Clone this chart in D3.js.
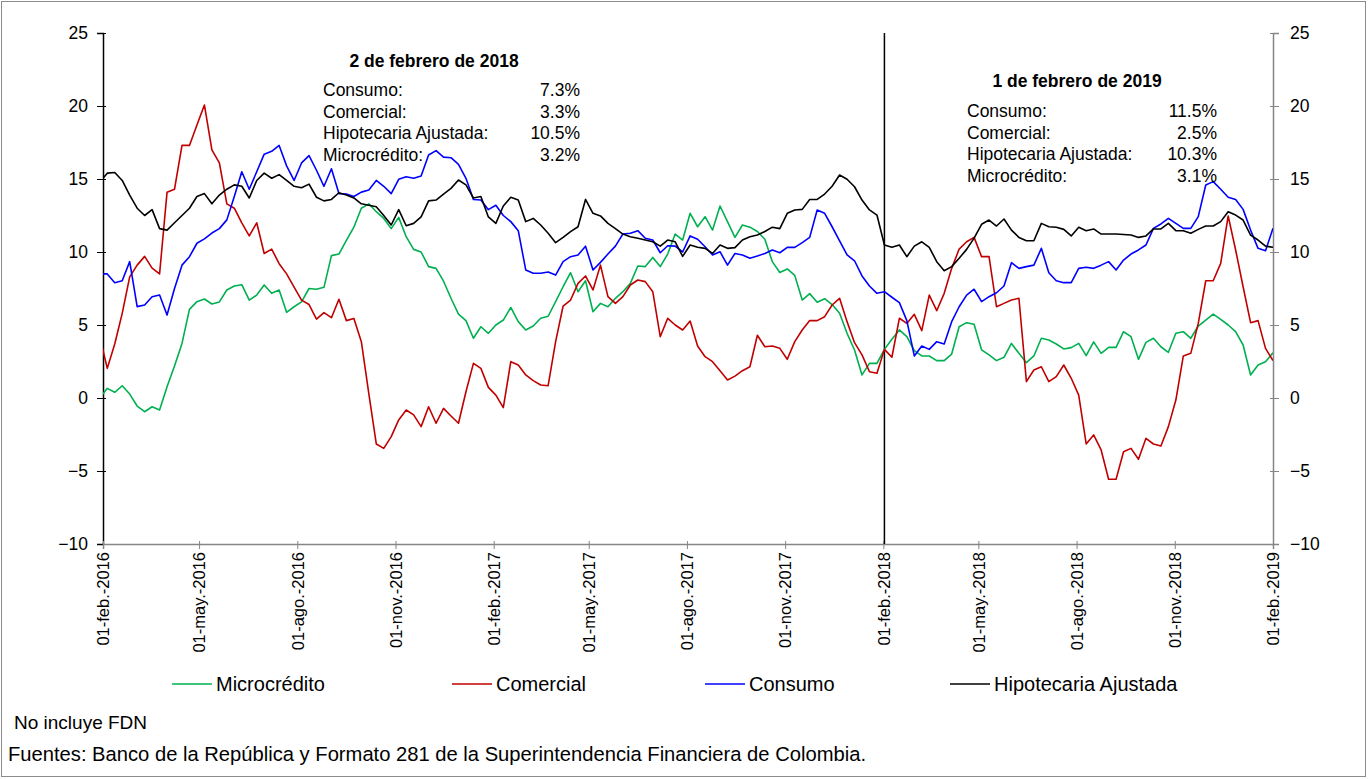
<!DOCTYPE html>
<html>
<head>
<meta charset="utf-8">
<script src="https://cdn.jsdelivr.net/npm/d3@7"></script>
<style>
  body { margin: 0; background: #fff; }
  svg text { font-family: Arial, "Liberation Sans", sans-serif; fill: #000; }
</style>
</head>
<body>
<div id="chart"></div>
<script>
// weekly observations (Fridays), first one just before the axis start
const firstWeek = '2016-01-29';

const microcredito = [0.0, 0.66, 0.39, 0.84, 0.27, -0.55, -0.94, -0.6, -0.82, 0.77,
  2.19, 3.74, 6.07, 6.6, 6.78, 6.44, 6.58, 7.4, 7.67, 7.76,
  6.7, 7.05, 7.74, 7.17, 7.4, 5.87, 6.25, 6.58, 7.5, 7.45,
  7.58, 9.75, 9.86, 10.8, 11.7, 13.0, 13.3, 12.76, 12.3, 11.6,
  12.37, 11.05, 10.18, 10.0, 9.0, 8.88, 8.0, 6.83, 5.75, 5.3,
  4.09, 4.88, 4.43, 5.0, 5.34, 6.2, 5.23, 4.66, 4.93, 5.46,
  5.6, 6.6, 7.62, 8.58, 7.28, 8.03, 5.91, 6.48, 6.25, 6.83,
  7.28, 7.85, 9.04, 9.0, 9.63, 9.0, 9.86, 11.23, 10.82, 12.65,
  11.73, 12.42, 11.5, 13.15, 12.08, 11.0, 11.85, 11.7, 11.4, 10.87,
  9.34, 8.6, 8.84, 8.4, 6.71, 7.15, 6.56, 6.8, 6.4, 5.8,
  4.43, 3.29, 1.58, 2.37, 2.37, 3.33, 4.02, 4.66, 4.2, 3.24,
  2.88, 2.88, 2.56, 2.56, 3.01, 4.88, 5.16, 5.05, 3.3, 2.95,
  2.56, 2.79, 3.74, 3.06, 2.42, 2.88, 4.09, 3.97, 3.7, 3.36,
  3.45, 3.74, 2.9, 3.84, 3.06, 3.47, 3.47, 4.54, 4.2, 2.65,
  3.81, 4.09, 3.51, 3.13, 4.43, 4.54, 4.09, 4.93, 5.34, 5.75,
  5.39, 5.0, 4.54, 3.63, 1.58, 2.26, 2.49, 3.1];

const comercial = [4.2, 2.03, 3.7, 5.8, 8.3, 9.1, 9.7, 8.9, 8.5, 14.1,
  14.3, 17.3, 17.3, 18.7, 20.07, 17.0, 16.1, 13.3, 13.0, 12.0,
  11.1, 12.0, 9.9, 10.2, 9.2, 8.5, 7.6, 6.7, 6.4, 5.4,
  5.85, 5.5, 6.76, 5.3, 5.45, 3.86, 0.3, -3.15, -3.45, -2.65,
  -1.5, -0.82, -1.16, -1.96, -0.6, -1.73, -0.71, -1.23, -1.73, 0.43,
  2.37, 2.03, 0.73, 0.2, -0.66, 2.49, 2.26, 1.58, 1.19, 0.89,
  0.84, 3.86, 6.3, 6.71, 7.85, 8.36, 7.4, 9.1, 6.94, 6.48,
  6.94, 7.74, 8.08, 7.97, 7.28, 4.2, 5.46, 5.0, 4.66, 5.27,
  3.56, 2.83, 2.49, 1.87, 1.23, 1.5, 1.87, 2.14, 4.3, 3.51,
  3.56, 3.4, 2.65, 3.86, 4.66, 5.3, 5.3, 5.57, 6.37, 6.83,
  5.23, 3.79, 2.95, 1.8, 1.69, 3.33, 2.79, 5.46, 5.11, 5.73,
  4.61, 7.05, 5.98, 7.17, 8.88, 10.2, 10.7, 11.0, 9.68, 9.68,
  6.25, 6.48, 6.71, 6.83, 1.12, 1.92, 2.14, 1.12, 1.46, 2.26,
  1.35, 0.2, -3.15, -2.53, -3.56, -5.57, -5.57, -3.68, -3.45, -4.2,
  -2.76, -3.15, -3.29, -1.96, -0.14, 2.88, 3.06, 5.11, 8.03, 8.03,
  9.22, 12.47, 10.14, 7.62, 5.16, 5.3, 3.4, 2.56];

const consumo = [8.5, 8.5, 7.9, 8.03, 9.34, 6.26, 6.37, 6.94, 7.05, 5.68,
  7.5, 9.1, 9.68, 10.6, 10.9, 11.3, 11.6, 12.2, 13.8, 15.5,
  14.3, 15.5, 16.7, 16.9, 17.3, 15.9, 14.9, 16.1, 16.6, 15.6,
  14.5, 15.7, 14.0, 13.97, 13.8, 14.1, 14.25, 14.9, 14.5, 14.0,
  14.98, 15.16, 15.05, 15.2, 16.64, 16.94, 16.5, 16.46, 16.0, 15.05,
  13.6, 13.56, 12.9, 13.2, 12.5, 12.08, 11.46, 8.77, 8.54, 8.54,
  8.63, 8.42, 9.34, 9.68, 9.8, 10.4, 8.77, 9.29, 9.86, 10.4,
  11.23, 11.28, 11.46, 10.94, 10.82, 9.95, 10.43, 10.4, 10.0, 11.1,
  10.87, 10.36, 9.8, 10.02, 9.1, 9.9, 9.8, 9.57, 9.73, 9.9,
  10.14, 9.95, 10.32, 10.32, 10.64, 11.0, 12.88, 12.65, 11.73, 10.77,
  9.8, 9.4, 8.36, 7.67, 7.17, 7.28, 6.9, 6.53, 5.3, 2.88,
  3.56, 3.33, 3.86, 3.7, 5.23, 6.25, 7.05, 7.45, 6.6, 6.94,
  7.21, 7.67, 9.27, 8.88, 9.0, 9.1, 10.25, 8.58, 8.03, 7.9,
  7.9, 8.88, 8.95, 8.88, 9.1, 9.34, 8.77, 9.45, 9.86, 10.14,
  10.48, 11.62, 11.92, 12.3, 11.96, 11.62, 11.62, 12.42, 14.59, 14.82,
  14.3, 13.75, 13.6, 12.92, 11.5, 10.25, 10.09, 11.62];

const hipotecaria = [14.8, 15.4, 15.45, 14.9, 13.9, 13.0, 12.5, 12.9, 11.6, 11.5,
  12.0, 12.5, 13.0, 13.8, 14.0, 13.3, 13.9, 14.3, 14.6, 14.5,
  13.7, 14.9, 15.4, 15.05, 15.3, 14.9, 14.5, 14.4, 14.65, 13.75,
  13.5, 13.6, 14.06, 13.9, 13.7, 13.3, 13.2, 13.1, 12.5, 11.85,
  12.9, 11.8, 11.96, 12.4, 13.5, 13.56, 13.97, 14.36, 14.93, 14.6,
  13.7, 13.8, 12.4, 11.96, 13.15, 13.75, 13.56, 12.08, 12.3, 11.85,
  11.28, 10.64, 11.0, 11.4, 11.73, 13.6, 12.65, 12.47, 11.96, 11.6,
  11.23, 11.05, 10.94, 10.82, 10.7, 10.4, 10.82, 10.7, 9.7, 10.48,
  10.32, 10.25, 9.9, 10.48, 10.25, 10.3, 10.82, 11.05, 11.16, 11.4,
  11.7, 11.6, 12.65, 12.88, 12.92, 13.6, 13.6, 13.97, 14.5, 15.27,
  14.98, 14.47, 13.56, 12.88, 12.53, 10.48, 10.32, 10.48, 9.68, 10.4,
  10.7, 10.32, 9.34, 8.72, 9.0, 9.57, 10.18, 10.95, 11.9, 12.19,
  11.78, 12.26, 11.5, 11.0, 10.77, 10.77, 11.96, 11.73, 11.69, 11.55,
  11.1, 11.69, 11.46, 11.58, 11.23, 11.23, 11.23, 11.2, 11.16, 11.0,
  11.1, 11.58, 11.58, 11.96, 11.46, 11.46, 11.28, 11.55, 11.78, 11.78,
  12.08, 12.76, 12.53, 12.19, 11.16, 10.82, 10.4, 10.32];

const seriesNames = ['Microcrédito', 'Comercial', 'Consumo', 'Hipotecaria Ajustada'];
const seriesColors = ['#00b050', '#c00000', '#0000ff', '#000000'];

const xTickDates = ['2016-02-01', '2016-05-01', '2016-08-01', '2016-11-01', '2017-02-01', '2017-05-01',
  '2017-08-01', '2017-11-01', '2018-02-01', '2018-05-01', '2018-08-01', '2018-11-01', '2019-02-01'];
const xTickLabels = ['01-feb.-2016', '01-may.-2016', '01-ago.-2016', '01-nov.-2016', '01-feb.-2017', '01-may.-2017',
  '01-ago.-2017', '01-nov.-2017', '01-feb.-2018', '01-may.-2018', '01-ago.-2018', '01-nov.-2018', '01-feb.-2019'];
const yTicks = [-10, -5, 0, 5, 10, 15, 20, 25];

const noteLabels = ['Consumo:', 'Comercial:', 'Hipotecaria Ajustada:', 'Microcrédito:'];
const note2018 = ['7.3%', '3.3%', '10.5%', '3.2%'];
const note2019 = ['11.5%', '2.5%', '10.3%', '3.1%'];

const W = 1368, H = 779;
const plot = { left: 103, right: 1273, top: 33, bottom: 544 };

const parse = d3.utcParse('%Y-%m-%d');
const start = parse(firstWeek);
const dates = d3.range(hipotecaria.length).map(i => d3.utcDay.offset(start, 7 * i));

const x = d3.scaleUtc()
    .domain([parse('2016-02-01'), parse('2019-02-01')])
    .range([plot.left, plot.right]);
const y = d3.scaleLinear()
    .domain([-10, 25])
    .range([plot.bottom, plot.top]);

const svg = d3.select('#chart').append('svg')
    .attr('width', W)
    .attr('height', H);

// outer frame
svg.append('rect')
    .attr('x', 1.5).attr('y', 1.5)
    .attr('width', W - 4).attr('height', H - 4)
    .attr('fill', 'none')
    .attr('stroke', '#8c8c8c')
    .attr('stroke-width', 1);

svg.append('clipPath').attr('id', 'plot-clip')
    .append('rect')
    .attr('x', plot.left).attr('y', plot.top - 5)
    .attr('width', plot.right - plot.left).attr('height', plot.bottom - plot.top + 10);

// axes (ticks cross the axis line, as in the spreadsheet original)
const leftAxis = svg.append('g')
    .attr('transform', `translate(${plot.left},0)`)
    .call(d3.axisLeft(y).tickValues(yTicks).tickSize(6).tickPadding(9));
leftAxis.select('.domain').attr('stroke', '#000').attr('stroke-width', 1.5);
leftAxis.selectAll('.tick line').attr('stroke', '#000').attr('x1', 3);

const rightAxis = svg.append('g')
    .attr('transform', `translate(${plot.right},0)`)
    .call(d3.axisRight(y).tickValues(yTicks).tickSize(6).tickPadding(11));
rightAxis.select('.domain').attr('stroke', '#868686').attr('stroke-width', 1.5);
rightAxis.selectAll('.tick line').attr('stroke', '#868686').attr('x1', -3);

[leftAxis, rightAxis].forEach(g => {
    g.selectAll('text').style('font-size', '17.5px').attr('fill', '#000');
});

const bottomAxis = svg.append('g')
    .attr('transform', `translate(0,${plot.bottom})`)
    .call(d3.axisBottom(x)
        .tickValues(xTickDates.map(parse))
        .tickFormat((d, i) => xTickLabels[i])
        .tickSize(5));
bottomAxis.select('.domain').attr('stroke', '#868686').attr('stroke-width', 1.5);
bottomAxis.selectAll('.tick line').attr('stroke', '#868686').attr('y1', -3);
bottomAxis.selectAll('text')
    .style('font-size', '16.5px')
    .attr('fill', '#000')
    .attr('transform', 'rotate(-90)')
    .attr('text-anchor', 'end')
    .attr('x', -8)
    .attr('y', 0)
    .attr('dy', '0.35em');

// vertical marker at 2 Feb 2018
svg.append('line')
    .attr('x1', x(parse('2018-02-02'))).attr('x2', x(parse('2018-02-02')))
    .attr('y1', plot.top).attr('y2', plot.bottom)
    .attr('stroke', '#000').attr('stroke-width', 1.5);

// series lines
const allSeries = [microcredito, comercial, consumo, hipotecaria];
const line = d3.line()
    .x((d, i) => x(dates[i]))
    .y(d => y(d));

const linesG = svg.append('g').attr('clip-path', 'url(#plot-clip)');
allSeries.forEach((values, k) => {
    linesG.append('path')
        .datum(values)
        .attr('d', line)
        .attr('fill', 'none')
        .attr('stroke', seriesColors[k])
        .attr('stroke-width', 1.6)
        .attr('stroke-linejoin', 'round');
});

// annotation boxes
function addNote(title, titleX, titleY, labelX, valueX, firstY, values) {
    svg.append('text')
        .attr('x', titleX).attr('y', titleY)
        .attr('text-anchor', 'middle')
        .style('font-size', '17.5px')
        .style('font-weight', 'bold')
        .text(title);
    noteLabels.forEach((lab, i) => {
        const yy = firstY + i * 21.5;
        svg.append('text')
            .attr('x', labelX).attr('y', yy)
            .style('font-size', '17.5px')
            .text(lab);
        svg.append('text')
            .attr('x', valueX).attr('y', yy)
            .attr('text-anchor', 'end')
            .style('font-size', '17.5px')
            .text(values[i]);
    });
}
addNote('2 de febrero de 2018', 434, 67, 323, 580, 96, note2018);
addNote('1 de febrero de 2019', 1077, 87, 967, 1217, 117, note2019);

// legend
const legendX = [172, 452, 705, 950];
const legendY = 684;
seriesNames.forEach((name, k) => {
    const g = svg.append('g').attr('transform', `translate(${legendX[k]},${legendY})`);
    g.append('line')
        .attr('x1', 0).attr('x2', 40)
        .attr('stroke', seriesColors[k])
        .attr('stroke-width', 1.6);
    g.append('text')
        .attr('x', 44).attr('y', 0)
        .attr('dy', '0.35em')
        .style('font-size', '20px')
        .text(name);
});

// footnotes
svg.append('text')
    .attr('x', 14).attr('y', 729)
    .style('font-size', '19px')
    .text('No incluye FDN');
svg.append('text')
    .attr('x', 8).attr('y', 761)
    .style('font-size', '20.5px')
    .attr('textLength', 858)
    .attr('lengthAdjust', 'spacingAndGlyphs')
    .text('Fuentes: Banco de la República y Formato 281 de la Superintendencia Financiera de Colombia.');
</script>
</body>
</html>
